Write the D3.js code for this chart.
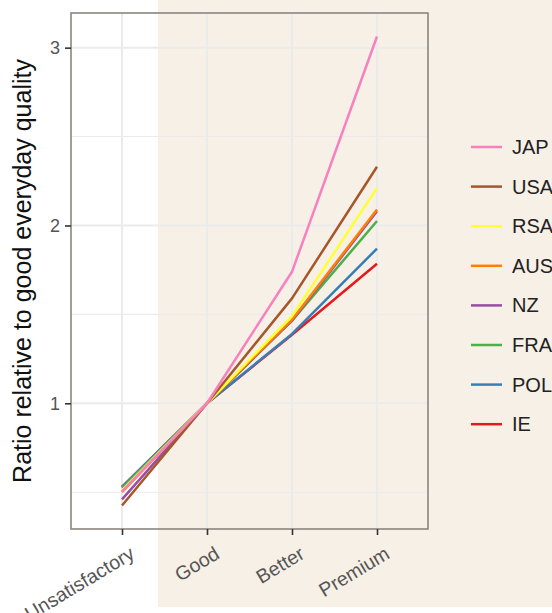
<!DOCTYPE html>
<html>
<head>
<meta charset="utf-8">
<script src="https://cdn.jsdelivr.net/npm/d3@7"></script>
<style>
html,body{margin:0;padding:0;background:#fff;}
svg{display:block;font-family:"Liberation Sans",Arial,sans-serif;}
</style>
</head>
<body>
<svg id="chart" width="552" height="613"></svg>
<script>
const levels = ["Unsatisfactory", "Good", "Better", "Premium"];
const countries = ["JAP", "USA", "RSA", "AUS", "NZ", "FRA", "POL", "IE"];
const colors = ["#f781bf", "#a65628", "#ffff33", "#ff7f00", "#984ea3", "#4daf4a", "#377eb8", "#e41a1c"];
const JAP = [0.505, 1, 1.74, 3.063];
const USA = [0.425, 1, 1.59, 2.33];
const RSA = [0.51, 1, 1.49, 2.21];
const AUS = [0.50, 1, 1.47, 2.09];
const NZ  = [0.46, 1, 1.465, 2.08];
const FRA = [0.525, 1, 1.465, 2.025];
const POL = [0.53, 1, 1.39, 1.87];
const IE  = [0.53, 1, 1.385, 1.785];
const yTicks = [1, 2, 3];
const yMinor = [0.5, 1.5, 2.5];
const values = [JAP, USA, RSA, AUS, NZ, FRA, POL, IE];

const svg = d3.select("#chart");
const panel = {left: 71, right: 428, top: 13, bottom: 529};

// background band
svg.append("rect").attr("x", 158).attr("y", 0).attr("width", 552 - 158).attr("height", 607).attr("fill", "#f7f0e7");

const x = d3.scalePoint().domain(levels).range([panel.left, panel.right]).padding(0.6);
const all = values.flat();
const lo = d3.min(all), hi = d3.max(all), ex = (hi - lo) * 0.05;
const y = d3.scaleLinear().domain([lo - ex, hi + ex]).range([panel.bottom, panel.top]);

const g = svg.append("g");
g.selectAll(".ymin").data(yMinor).join("line")
  .attr("x1", panel.left).attr("x2", panel.right)
  .attr("y1", d => y(d)).attr("y2", d => y(d))
  .attr("stroke", "#ebebeb").attr("stroke-width", 1.1);
g.selectAll(".ymaj").data(yTicks).join("line")
  .attr("x1", panel.left).attr("x2", panel.right)
  .attr("y1", d => y(d)).attr("y2", d => y(d))
  .attr("stroke", "#ebebeb").attr("stroke-width", 2);
g.selectAll(".xmaj").data(levels).join("line")
  .attr("x1", d => x(d)).attr("x2", d => x(d))
  .attr("y1", panel.top).attr("y2", panel.bottom)
  .attr("stroke", "#ebebeb").attr("stroke-width", 2);

const line = d3.line().x((d, i) => x(levels[i])).y(d => y(d));
const order = d3.range(countries.length).reverse();
svg.append("g").selectAll("path").data(order).join("path")
  .attr("d", i => line(values[i]))
  .attr("fill", "none")
  .attr("stroke", i => colors[i])
  .attr("stroke-width", 2.5)
  .attr("stroke-linejoin", "round");

svg.append("rect").attr("x", panel.left).attr("y", panel.top)
  .attr("width", panel.right - panel.left).attr("height", panel.bottom - panel.top)
  .attr("fill", "none").attr("stroke", "#8a8580").attr("stroke-width", 1.6);

const yAxis = d3.axisLeft(y).tickValues(yTicks).tickSize(6).tickPadding(5).tickFormat(d3.format("d"));
const ya = svg.append("g").attr("transform", `translate(${panel.left},0)`).call(yAxis);
ya.select(".domain").remove();
ya.selectAll("line").attr("stroke", "#333").attr("stroke-width", 1.6);
ya.selectAll("text").attr("fill", "#555").attr("font-size", 18).attr("font-family", "Liberation Sans, Arial, sans-serif");

const xAxis = d3.axisBottom(x).tickSize(6).tickPadding(4);
const xa = svg.append("g").attr("transform", `translate(0,${panel.bottom})`).call(xAxis);
xa.select(".domain").remove();
xa.selectAll("line").attr("stroke", "#333").attr("stroke-width", 1.6);
xa.selectAll("text")
  .attr("fill", "#555").attr("font-size", 19.5).attr("font-family", "Liberation Sans, Arial, sans-serif")
  .attr("text-anchor", "end").attr("dy", null)
  .attr("transform", "translate(6,16) rotate(-31)")
  .attr("y", 0).attr("x", 0)
  .attr("dominant-baseline", "hanging");

svg.append("text")
  .attr("transform", `translate(31,${(panel.top + panel.bottom) / 2}) rotate(-90)`)
  .attr("text-anchor", "middle")
  .attr("font-size", 25).attr("fill", "#111")
  .text("Ratio relative to good everyday quality");

const leg = svg.append("g");
countries.forEach((c, i) => {
  const yy = 147 + i * 39.6;
  leg.append("line").attr("x1", 471).attr("x2", 502).attr("y1", yy).attr("y2", yy)
    .attr("stroke", colors[i]).attr("stroke-width", 2.5);
  leg.append("text").attr("x", 512).attr("y", yy).attr("dy", "0.35em")
    .attr("font-size", 20).attr("fill", "#222").text(c);
});
</script>
</body>
</html>
